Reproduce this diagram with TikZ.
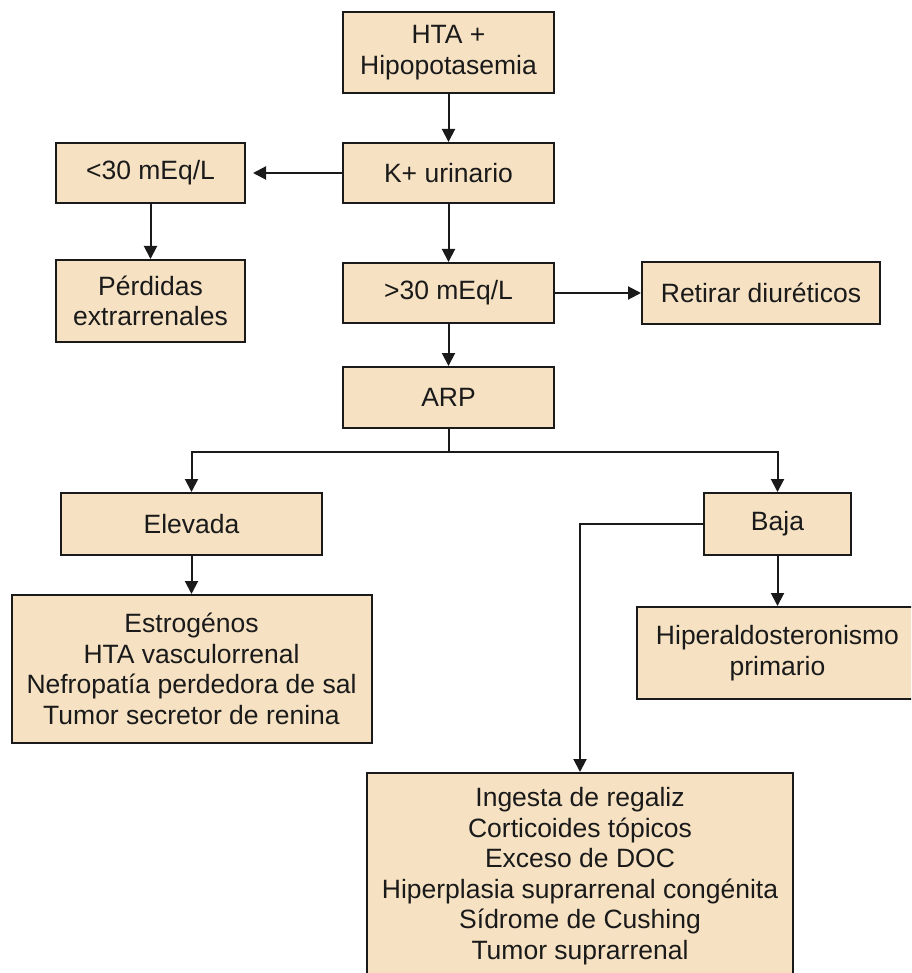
\documentclass[tikz,border=0pt]{standalone}
\usepackage{fontspec}
\setmainfont{Liberation Sans}
\usetikzlibrary{arrows.meta}
\definecolor{boxfill}{HTML}{F6E2C3}
\definecolor{ink}{HTML}{1A1A1A}
\tikzset{
  box/.style={draw=ink, fill=boxfill, line width=2pt, inner sep=0pt,
    align=center, font=\fontsize{26.5}{30.5}\selectfont, text=ink},
  conn/.style={draw=ink, line width=2pt,
    -{Triangle[length=13pt,width=13pt]}},
  link/.style={draw=ink, line width=2pt}
}
\begin{document}
\begin{tikzpicture}[x=1pt,y=-1pt]
\useasboundingbox (0,0) rectangle (911,973);
\clip (0,0) rectangle (911,973);
% upper chain
\node[box, minimum width=211pt, minimum height=81pt] (hta) at (448.5,52.5) {HTA +\\Hipopotasemia};
\node[box, minimum width=211pt, minimum height=60pt] (kur) at (448.5,173) {K+ urinario};
\node[box, minimum width=189pt, minimum height=60pt] (menos) at (150.5,173) {<30 mEq/L};
\node[box, minimum width=189pt, minimum height=82pt] (perd) at (150.5,301) {Pérdidas\\extrarrenales};
\node[box, minimum width=211pt, minimum height=60pt] (mas) at (448.5,293) {>30 mEq/L};
\node[box, minimum width=238pt, minimum height=61pt] (ret) at (761,293) {Retirar diuréticos};
\node[box, minimum width=211pt, minimum height=61pt] (arp) at (448.5,397.5) {ARP};
% renin branches
\node[box, minimum width=261pt, minimum height=62pt] (elev) at (191.5,524) {Elevada};
\node[box, minimum width=147pt, minimum height=62pt] (baja) at (777.5,524) {Baja};
\node[box, minimum width=360pt, minimum height=148pt] (alta) at (191.5,669) {Estrogénos\\HTA vasculorrenal\\Nefropatía perdedora de sal\\Tumor secretor de renina};
\node[box, minimum width=282pt, minimum height=92pt] (hiper) at (777.5,653) {Hiperaldosteronismo\\primario};
\node[box, minimum width=426pt, minimum height=206pt] (otras) at (580,876) {Ingesta de regaliz\\Corticoides tópicos\\Exceso de DOC\\Hiperplasia suprarrenal congénita\\Sídrome de Cushing\\Tumor suprarrenal};
% connectors
\draw[conn] (hta) -- (kur);
\draw[conn, shorten >=7pt] (kur.west) -- (menos.east);
\draw[conn] (menos) -- (perd);
\draw[conn] (kur) -- (mas);
\draw[conn] (mas.east) -- (ret.west);
\draw[conn] (mas) -- (arp);
\coordinate (split) at (448.5,452);
\draw[link] (arp.south) -- (split);
\draw[conn] (split) -| (elev.north);
\draw[conn] (split) -| (baja.north);
\draw[conn] (elev) -- (alta);
\draw[conn] (baja) -- (hiper);
\draw[conn] (baja.west) -| (otras.north);
\end{tikzpicture}
\end{document}
